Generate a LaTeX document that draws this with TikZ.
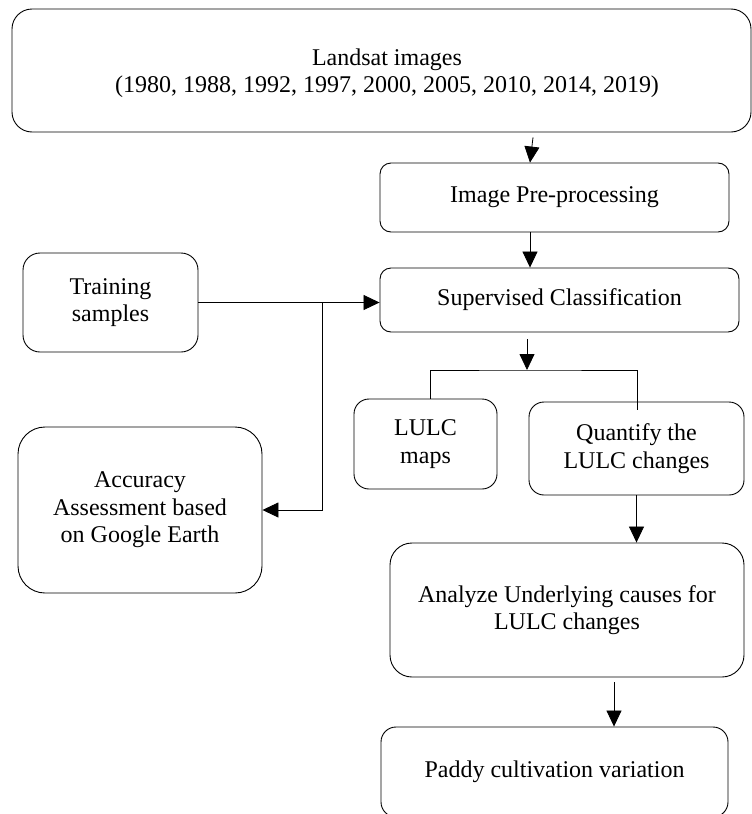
\documentclass[tikz,border=0pt]{standalone}
\usepackage{fontspec}
\setmainfont{Liberation Serif}
\usetikzlibrary{arrows.meta}
\begin{document}
\begin{tikzpicture}[x=1pt,y=-1pt,
  box/.style={draw, line width=0.9pt, align=center, inner sep=0pt,
    font=\fontsize{24}{27.5}\selectfont},
  txt/.style={align=center, inner sep=0pt, font=\fontsize{24}{27.5}\selectfont},
  arr/.style={line width=0.8pt, -{Triangle[length=16pt,width=15pt]}},
  ln/.style={line width=0.8pt}]
\useasboundingbox (0,0) rectangle (752,814);
% boxes
\node[box, minimum width=739pt, minimum height=123pt, rounded corners=20pt] (L) at (381.5,70.5) {};
\node[txt] (Lt) at (387,73) {Landsat images\\(1980, 1988, 1992, 1997, 2000, 2005, 2010, 2014, 2019)};
\node[box, minimum width=349pt, minimum height=69pt, rounded corners=11pt] (P) at (554.5,197.5) {Image Pre-processing};
\node[box, minimum width=359pt, minimum height=64pt, rounded corners=11pt] (S) at (559.5,300) {Supervised Classification};
\node[box, minimum width=175pt, minimum height=99pt, rounded corners=17pt] (T) at (110.5,302.5) {Training\\samples};
\node[box, minimum width=244pt, minimum height=166pt, rounded corners=27pt] (A) at (140,510) {Accuracy\\Assessment based\\on Google Earth};
\node[box, minimum width=143pt, minimum height=90pt, rounded corners=15pt] (M) at (425.5,444) {LULC\\maps};
\node[box, minimum width=215pt, minimum height=93pt, rounded corners=15pt] (Q) at (636.5,448.5) {Quantify the\\LULC changes};
\node[box, minimum width=354pt, minimum height=134pt, rounded corners=22pt] (An) at (567,610) {Analyze Underlying causes for\\LULC changes};
\node[box, minimum width=347pt, minimum height=90pt, rounded corners=15pt] (Pd) at (554.5,772) {Paddy cultivation variation};
% connectors
\draw[arr] ([xshift=151.5pt,yshift=-5pt]L.south) -- (P.north -| 530,0);
\draw[arr] (P.south -| 530,0) -- (S.north -| 530,0);
\coordinate (J) at (527,370);
\draw[arr] (S.south -| J) ++(0,7) -- (J);
\coordinate (Qin) at (637,410);
\draw[ln] (M.north -| 430,0) |- (J) -| (Qin);
\draw[arr] (T.east) -- (T.east -| S.west);
\coordinate (K) at (322,302.5);
\draw[arr] (K) |- (A.east);
\draw[arr] (Q.south) -- (Q.south |- An.north);
\draw[arr] (An.south -| 614,0) ++(0,5) -- (Pd.north -| 614,0);
\end{tikzpicture}
\end{document}
